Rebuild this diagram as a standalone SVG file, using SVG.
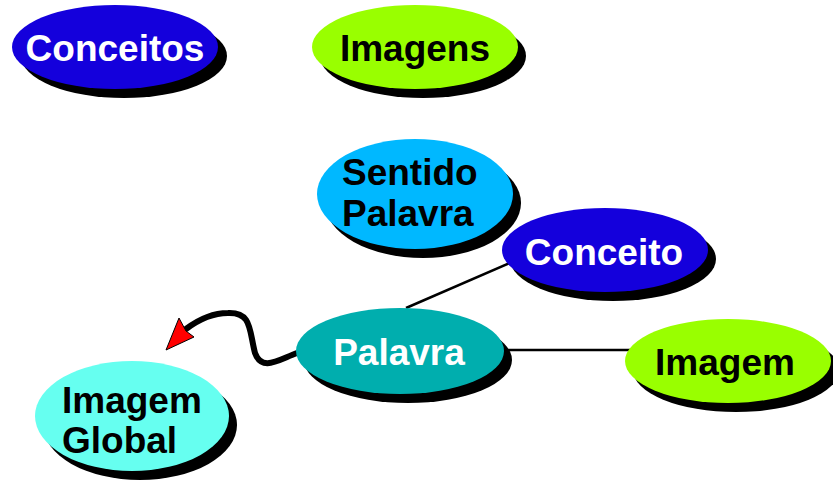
<svg xmlns="http://www.w3.org/2000/svg" width="833" height="489" viewBox="0 0 833 489">
<style>
  .sh { fill: #000000; }
  .t { font-family: "Liberation Sans", Arial, sans-serif; font-weight: bold; font-size: 37px; }
  .w { fill: #ffffff; }
  .k { fill: #000000; }
  .mid { text-anchor: middle; }
  .ln { stroke: #000000; stroke-width: 2.5; fill: none; }
</style>
<rect width="833" height="489" fill="#ffffff"/>
<g id="connectors">
  <line class="ln" x1="512" y1="262" x2="406" y2="308"/>
  <line class="ln" x1="500" y1="350" x2="630" y2="350"/>
  <path d="M297,353 C278,360 262,372 255,353 C249,330 252,312 228,313 C212,313 198,320 186,329" stroke="#000000" stroke-width="6" fill="none" stroke-linecap="round"/>
  <polygon points="166,350 179,318 186,331 194,337" fill="#ff0000" stroke="#000000" stroke-width="1"/>
</g>
<g id="conceitos">
  <ellipse class="sh" cx="124" cy="56" rx="103" ry="42"/>
  <ellipse cx="115" cy="47" rx="103" ry="42" fill="#1400DC"/>
  <text class="t w mid" x="115" y="61">Conceitos</text>
</g>
<g id="imagens">
  <ellipse class="sh" cx="423" cy="56" rx="103" ry="42"/>
  <ellipse cx="415" cy="47" rx="103" ry="42" fill="#99FF00"/>
  <text class="t k mid" x="415" y="61">Imagens</text>
</g>
<g id="sentido-palavra">
  <ellipse class="sh" cx="423" cy="203" rx="98" ry="55"/>
  <ellipse cx="415" cy="194" rx="98" ry="55" fill="#00B8FF"/>
  <text class="t k" x="342" y="185">Sentido</text>
  <text class="t k" x="342" y="226">Palavra</text>
</g>
<g id="conceito">
  <ellipse class="sh" cx="613" cy="259" rx="103" ry="42"/>
  <ellipse cx="605" cy="250" rx="103" ry="42" fill="#1400DC"/>
  <text class="t w mid" x="604" y="265">Conceito</text>
</g>
<g id="palavra">
  <ellipse class="sh" cx="408" cy="360" rx="104" ry="43"/>
  <ellipse cx="400" cy="351" rx="104" ry="43" fill="#00AEAE"/>
  <text class="t w mid" x="399" y="365">Palavra</text>
</g>
<g id="imagem">
  <ellipse class="sh" cx="736" cy="370" rx="103" ry="42"/>
  <ellipse cx="728" cy="361" rx="103" ry="42" fill="#99FF00"/>
  <text class="t k mid" x="725" y="375">Imagem</text>
</g>
<g id="imagem-global">
  <ellipse class="sh" cx="140" cy="425" rx="97" ry="55"/>
  <ellipse cx="132" cy="416" rx="97" ry="55" fill="#66FFF0"/>
  <text class="t k" x="62" y="413">Imagem</text>
  <text class="t k" x="62" y="453">Global</text>
</g>
</svg>
